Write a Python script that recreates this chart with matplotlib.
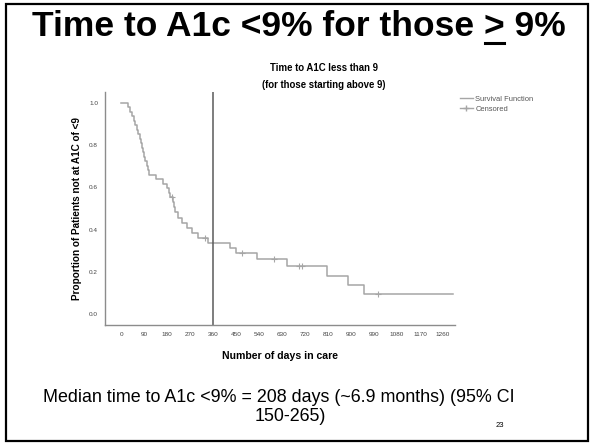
import numpy as np
import matplotlib.pyplot as plt
from matplotlib.lines import Line2D
from matplotlib.patches import Rectangle

plt.rcParams['font.family'] = ['Liberation Sans', 'DejaVu Sans']

# Kaplan-Meier steps (days, survival after the event)
event_days = [27, 34, 41, 49, 56, 63, 68, 72, 77, 81, 86, 91, 95, 100, 104, 109,
              135, 164, 178, 186, 192, 203, 207, 211, 223, 239, 258, 278, 301,
              340, 426, 450, 532, 650, 806, 888, 951]
event_surv = [0.979, 0.957, 0.936, 0.915, 0.894, 0.872, 0.851, 0.830, 0.809, 0.787,
              0.766, 0.745, 0.723, 0.702, 0.681, 0.660, 0.638, 0.617, 0.596, 0.574,
              0.553, 0.530, 0.506, 0.482, 0.457, 0.433, 0.409, 0.385, 0.361,
              0.338, 0.313, 0.289, 0.260, 0.228, 0.180, 0.137, 0.095]
censor_days = [198, 329, 473, 599, 696, 708, 1005]
last_day = 1300
median_line = 360
xticks = list(range(0, 1261, 90))
yticks = [0.0, 0.2, 0.4, 0.6, 0.8, 1.0]

t = np.array([0] + event_days + [last_day])
s = np.array([1.0] + event_surv + [event_surv[-1]])
cs = s[np.searchsorted(t, censor_days, side='right') - 1]

W, H = 592, 444
fig = plt.figure(figsize=(5.92, 4.44), dpi=100)
ax = fig.add_axes([0.1774, 0.268, 0.5912, 0.5248])

curve_col = '#a6a6a6'
ax.step(t, s, where='post', color=curve_col, lw=1.1)
ax.plot(censor_days, cs, ls='none', marker='+', ms=4.5, mew=0.8, color=curve_col)
ax.axvline(median_line, color='#5a5a5a', lw=1.1)

ax.set_xlim(-63, 1307)
ax.set_ylim(-0.052, 1.052)
ax.set_xticks(xticks)
ax.set_yticks(yticks)
ax.set_yticklabels([f'{v:.1f}' for v in yticks])
ax.tick_params(length=0, labelsize=4.6, labelcolor='#444444', pad=5)
for sp in ['top', 'right']:
    ax.spines[sp].set_visible(False)
for sp in ['left', 'bottom']:
    ax.spines[sp].set_color('#8c8c8c')
    ax.spines[sp].set_linewidth(1.0)

ax.set_ylabel('Proportion of Patients not at A1C of <9', fontsize=7.2,
              fontweight='bold', labelpad=5)
ax.set_xlabel('Number of days in care', fontsize=7.6, fontweight='bold', labelpad=10)

# chart title
fig.text(324 / W, 1 - 68 / H, 'Time to A1C less than 9', ha='center', va='center',
         fontsize=6.9, fontweight='bold')
fig.text(324 / W, 1 - 85 / H, '(for those starting above 9)', ha='center',
         va='center', fontsize=6.9, fontweight='bold')

# legend
handles = [Line2D([], [], color=curve_col, lw=1.0),
           Line2D([], [], color=curve_col, lw=1.0, marker='+', ms=4.5)]
fig.legend(handles, ['Survival Function', 'Censored'], loc='upper left',
           bbox_to_anchor=(456 / W, 1 - 92 / H), frameon=False, fontsize=5.4,
           handlelength=1.7, handletextpad=0.35, labelspacing=0.35, borderpad=0,
           labelcolor='#555555')

# slide title with underlined ">"
title = 'Time to A1c <9% for those > 9%'
tt = fig.text(299 / W, 1 - 27 / H, title, ha='center', va='center',
              fontsize=25.5, fontweight='bold')
r = fig.canvas.get_renderer()
bb = tt.get_window_extent(r)
tmp = fig.text(0, 0, 'Time to A1c <9% for those >', fontsize=25.5, fontweight='bold')
w1 = tmp.get_window_extent(r).width
tmp.set_text('>')
w2 = tmp.get_window_extent(r).width
tmp.remove()
x1 = bb.x0 + w1 - w2 + 1
x2 = bb.x0 + w1 - 1
yline = 1 - 43 / H
fig.add_artist(Line2D([x1 / W, x2 / W], [yline, yline], transform=fig.transFigure,
                      color='black', lw=2.2))

fig.text(279 / W, 1 - 398 / H, 'Median time to A1c <9% = 208 days (~6.9 months) (95% CI',
         ha='center', va='center', fontsize=12.9)
fig.text(290 / W, 1 - 416 / H, '150-265)', ha='center', va='center', fontsize=12.9)
fig.text(500 / W, 1 - 425 / H, '23', ha='center', va='center', fontsize=5.5)

# slide border
fig.patches.append(Rectangle((6 / W, 3 / H), 582 / W, 437 / H,
                             transform=fig.transFigure, fill=False,
                             edgecolor='black', lw=1.6))

plt.savefig('out.png', dpi=100)
